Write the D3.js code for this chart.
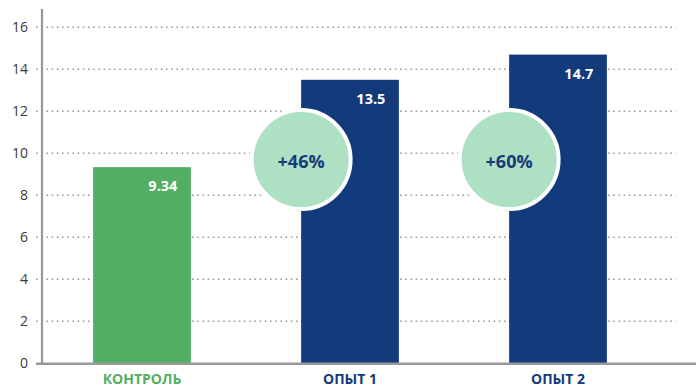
<!DOCTYPE html>
<html><head><meta charset="utf-8">
<script src="https://cdn.jsdelivr.net/npm/d3@7"></script>
<style>body{margin:0;background:#fff}svg{display:block}text{font-family:"Open Sans",Roboto,sans-serif}</style>
</head><body><svg id="c" width="696" height="392"></svg>
<script>
const categories = ["КОНТРОЛЬ", "ОПЫТ 1", "ОПЫТ 2"];
const values = [9.34, 13.5, 14.7];
const valueLabels = ["9.34", "13.5", "14.7"];
const increaseLabels = [null, "+46%", "+60%"];
const yTicks = [0, 2, 4, 6, 8, 10, 12, 14, 16];
const barColors = ["#52ae62", "#133a7a", "#133a7a"];

const svg = d3.select("#c");
const y = d3.scaleLinear().domain([0, 16]).range([363.3, 27.3]);
const x = d3.scaleBand().domain(categories).range([38, 662]).paddingInner(0.53).paddingOuter(0.265);

// gridlines
svg.append("g").selectAll("line").data(yTicks.filter(d => d > 0)).join("line")
  .attr("x1", 36).attr("x2", 676).attr("y1", d => y(d)).attr("y2", d => y(d))
  .attr("stroke", "#9a9a9a").attr("stroke-width", 1.6).attr("stroke-dasharray", "1.6,3.6");

// y axis labels
const yAxis = d3.axisLeft(y).tickValues(yTicks).tickSize(0).tickPadding(0).tickFormat(d3.format("d"));
const ya = svg.append("g").attr("transform", "translate(28,0)").call(yAxis);
ya.select(".domain").remove();
ya.selectAll("text").attr("font-size", 14).attr("fill", "#3a3a3a").attr("font-family", "'Open Sans',sans-serif");

// bars
svg.append("g").selectAll("rect").data(values).join("rect")
  .attr("x", (d, i) => x(categories[i])).attr("width", x.bandwidth())
  .attr("y", d => y(d)).attr("height", d => y(0) - y(d))
  .attr("fill", (d, i) => barColors[i]);

// value labels
svg.append("g").selectAll("text").data(values).join("text")
  .attr("x", (d, i) => x(categories[i]) + x.bandwidth() - 13.5)
  .attr("y", d => y(d) + 24)
  .attr("text-anchor", "end").attr("font-size", 14.5).attr("font-weight", 700).attr("fill", "#fff")
  .text((d, i) => valueLabels[i]);

// axes lines
svg.append("line").attr("x1", 42).attr("x2", 42).attr("y1", 9).attr("y2", 364)
  .attr("stroke", "#999").attr("stroke-width", 2.2);
svg.append("line").attr("x1", 36).attr("x2", 696).attr("y1", 363.8).attr("y2", 363.8)
  .attr("stroke", "#999").attr("stroke-width", 2.4);

// category labels
const xAxis = d3.axisBottom(x).tickSize(0).tickPadding(0);
const xa = svg.append("g").attr("transform", "translate(0,374)").call(xAxis);
xa.select(".domain").remove();
xa.selectAll("text").attr("font-size", 14).attr("font-weight", 700)
  .attr("font-family", "'Open Sans',sans-serif").attr("dy", "0.71em")
  .attr("fill", (d, i) => barColors[i]);

// increase circles
const inc = svg.append("g").selectAll("g").data(values.map((v, i) => i).filter(i => increaseLabels[i])).join("g")
  .attr("transform", i => `translate(${x(categories[i])},${y(9.7)})`);
inc.append("circle").attr("r", 49.5).attr("fill", "#aee0c4").attr("stroke", "#fff").attr("stroke-width", 4);
inc.append("text").attr("text-anchor", "middle").attr("dy", "0.35em").attr("y", 2)
  .attr("font-size", 18).attr("font-weight", 700).attr("fill", "#173a78")
  .text(i => increaseLabels[i]);
</script></body></html>
